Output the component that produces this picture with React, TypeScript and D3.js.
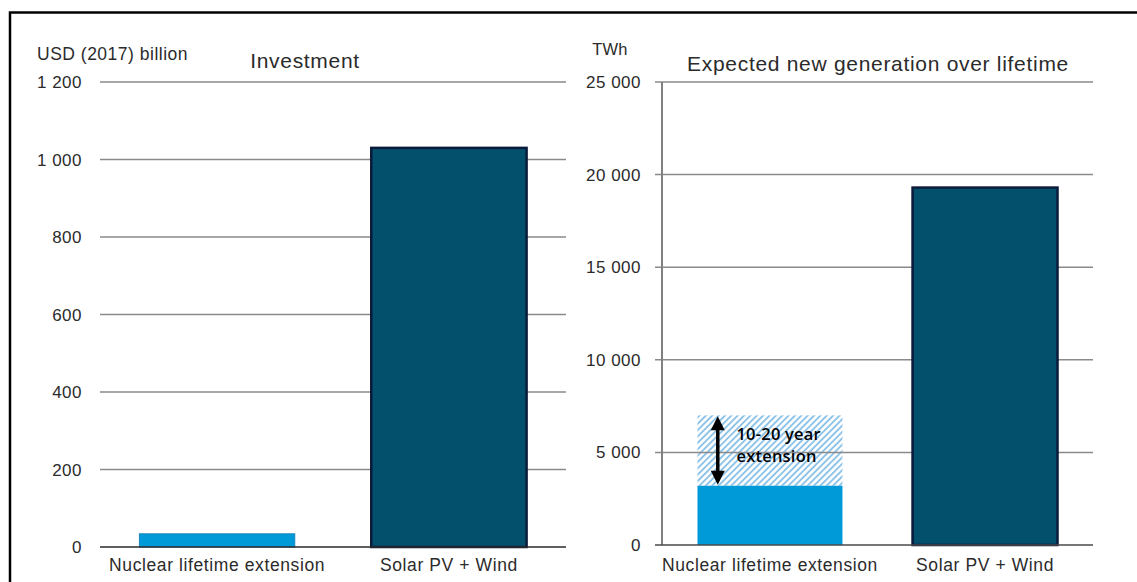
import React from "react";
import * as d3 from "d3";

const categories = ["Nuclear lifetime extension", "Solar PV + Wind"];
const investmentValues = [34, 1030];
const generationValues = [3200, 19300];
const extensionTop = 7000; // upper end of 10-20 year extension range (nuclear)
const investmentTicks = [0, 200, 400, 600, 800, 1000, 1200];
const generationTicks = [0, 5000, 10000, 15000, 20000, 25000];
const leftTitle = "Investment";
const rightTitle = "Expected new generation over lifetime";
const leftUnit = "USD (2017) billion";
const rightUnit = "TWh";
const annotationLines = ["10-20 year", "extension"];

const FONT = "'Liberation Sans', Arial, sans-serif";
const fmt = (v: number) => d3.format(",")(v).replace(/,/g, " ");

const NUCLEAR = "#009ad8";
const SOLAR = "#02506c";
const SOLAR_STROKE = "#0b1b3c";
const GRID = "#8a8a8a";

export default function App() {
  // Left panel scales
  const xL = d3.scaleBand<string>().domain(categories).range([100, 566]).paddingInner(0.33).paddingOuter(0.17);
  const yL = d3.scaleLinear().domain([0, 1200]).range([547, 82]);
  // Right panel scales
  const xR = d3.scaleBand<string>().domain(categories).range([662, 1093]).paddingInner(0.326).paddingOuter(0.165);
  const yR = d3.scaleLinear().domain([0, 25000]).range([545, 82]);

  const colors = [NUCLEAR, SOLAR];
  const nucX = xR(categories[0])!;
  const bwR = xR.bandwidth();
  const arrowX = nucX + bwR * 0.14;
  const aTop = yR(extensionTop) + 1;
  const aBot = yR(generationValues[0]) - 1;
  const headW = 7;
  const headH = 14;

  return (
    <svg width={1137} height={582} style={{ position: "absolute", left: 0, top: 0, background: "#fff" }}>
      <defs>
        <pattern id="hatch" patternUnits="userSpaceOnUse" width={4.5} height={4.5} patternTransform="rotate(45)">
          <line x1={1} y1={0} x2={1} y2={4.5} stroke="#86bfe6" strokeWidth={1.8} />
        </pattern>
      </defs>
      <rect x={0} y={0} width={1137} height={582} fill="#fff" />
      {/* frame */}
      <path d="M10,600 L10,12.5 L1140,12.5" fill="none" stroke="#000" strokeWidth={2.5} />

      {/* ===== Left panel ===== */}
      {investmentTicks.filter((t) => t > 0).map((t) => (
        <line key={"gl" + t} x1={100} x2={566} y1={yL(t)} y2={yL(t)} stroke={GRID} strokeWidth={1.5} />
      ))}
      {categories.map((c, i) => (
        <rect
          key={"bl" + c}
          x={xL(c)}
          y={yL(investmentValues[i])}
          width={xL.bandwidth()}
          height={yL(0) - yL(investmentValues[i])}
          fill={colors[i]}
          stroke={i === 1 ? SOLAR_STROKE : "#1685bd"}
          strokeWidth={i === 1 ? 2.5 : 1}
        />
      ))}
      <line x1={100} x2={566} y1={yL(0)} y2={yL(0)} stroke="#2a2a2a" strokeWidth={1.6} />
      {investmentTicks.map((t) => (
        <text key={"tl" + t} x={82} y={yL(t) + 6} textAnchor="end" fontFamily={FONT} fontSize={17} letterSpacing={0.5} fill="#2b2b2b">
          {fmt(t)}
        </text>
      ))}
      {categories.map((c) => (
        <text key={"cl" + c} x={xL(c)! + xL.bandwidth() / 2} y={571} textAnchor="middle" fontFamily={FONT} fontSize={17.5} letterSpacing={0.6} fill="#2b2b2b">
          {c}
        </text>
      ))}
      <text x={37} y={59.5} fontFamily={FONT} fontSize={17.5} letterSpacing={0.5} fill="#2b2b2b">{leftUnit}</text>
      <text x={305} y={67.5} textAnchor="middle" fontFamily={FONT} fontSize={21} letterSpacing={0.7} fill="#2b2b2b">{leftTitle}</text>

      {/* ===== Right panel ===== */}
      <rect x={nucX} y={yR(extensionTop)} width={bwR} height={yR(generationValues[0]) - yR(extensionTop)} fill="url(#hatch)" />
      {generationTicks.filter((t) => t > 0).map((t) => (
        <line key={"gr" + t} x1={655} x2={1093} y1={yR(t)} y2={yR(t)} stroke={GRID} strokeWidth={1.5} />
      ))}
      {categories.map((c, i) => (
        <rect
          key={"br" + c}
          x={xR(c)}
          y={yR(generationValues[i])}
          width={bwR}
          height={yR(0) - yR(generationValues[i])}
          fill={colors[i]}
          stroke={i === 1 ? SOLAR_STROKE : "none"}
          strokeWidth={i === 1 ? 2.5 : 0}
        />
      ))}
      <line x1={662} x2={662} y1={yR(25000)} y2={yR(0)} stroke="#808080" strokeWidth={2} />
      <line x1={655} x2={1093} y1={yR(0)} y2={yR(0)} stroke="#4a4a4a" strokeWidth={1.6} />
      {generationTicks.map((t) => (
        <text key={"tr" + t} x={641} y={yR(t) + 6} textAnchor="end" fontFamily={FONT} fontSize={17} letterSpacing={0.5} fill="#2b2b2b">
          {fmt(t)}
        </text>
      ))}
      {categories.map((c) => (
        <text key={"cr" + c} x={xR(c)! + bwR / 2} y={571} textAnchor="middle" fontFamily={FONT} fontSize={17.5} letterSpacing={0.6} fill="#2b2b2b">
          {c}
        </text>
      ))}
      <text x={610} y={55} textAnchor="middle" fontFamily={FONT} fontSize={16.5} letterSpacing={0.2} fill="#2b2b2b">{rightUnit}</text>
      <text x={878} y={70.5} textAnchor="middle" fontFamily={FONT} fontSize={21} letterSpacing={0.7} fill="#2b2b2b">{rightTitle}</text>

      {/* annotation: double-headed arrow */}
      <line x1={arrowX} x2={arrowX} y1={aTop + headH - 1} y2={aBot - headH + 1} stroke="#000" strokeWidth={3.5} />
      <path d={`M${arrowX},${aTop} L${arrowX - headW},${aTop + headH} L${arrowX + headW},${aTop + headH} Z`} fill="#000" />
      <path d={`M${arrowX},${aBot} L${arrowX - headW},${aBot - headH} L${arrowX + headW},${aBot - headH} Z`} fill="#000" />
      {annotationLines.map((l, i) => (
        <text key={l} x={nucX + 39} y={440 + i * 22} fontFamily="'Open Sans', sans-serif" fontWeight={600} fontSize={16.5} letterSpacing={0.2} fill="#000">
          {l}
        </text>
      ))}
    </svg>
  );
}
